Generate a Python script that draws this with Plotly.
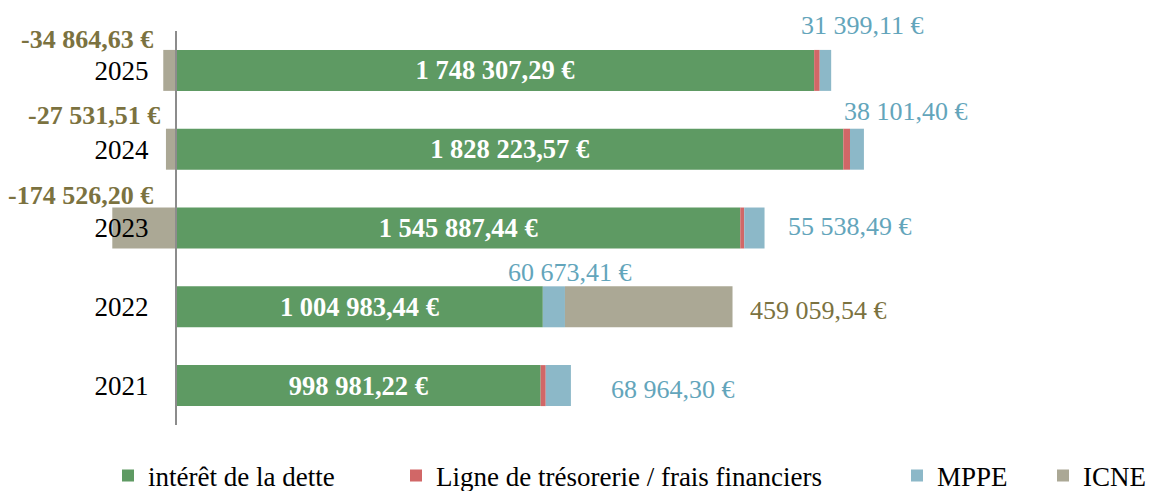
import plotly.graph_objects as go

# ---- data ----
years = ["2021", "2022", "2023", "2024", "2025"]
interet_dette = [998981.22, 1004983.44, 1545887.44, 1828223.57, 1748307.29]
ligne_tresorerie = [14000, 0, 11000, 18400, 15300]
mppe = [68964.30, 60673.41, 55538.49, 38101.40, 31399.11]
icne = [0, 459059.54, -174526.20, -27531.51, -34864.63]
series_names = ["intérêt de la dette", "Ligne de trésorerie / frais financiers", "MPPE", "ICNE"]

# ---- styles ----
FONT = "Liberation Serif"
colors = ["#5e9a63", "#d16767", "#8cb8c8", "#aba895"]
MPPE_LABEL = "#63a5bb"
ICNE_LABEL = "#7b7240"

# page body has an 8px margin: shift the figure's contents up/left by it
OFF = 8
W, H = 1159, 491
ML, MT = 12, 23
plot_w, plot_h = 1127, 394
MR = W - ML - plot_w
MB = H - MT - plot_h
ZERO_PX = 176 - OFF
PX_PER_EUR = 0.000365
x0_frac = (ZERO_PX - ML) / plot_w
span = plot_w / PX_PER_EUR
xrange = [-x0_frac * span, (1 - x0_frac) * span]


def eur(v):
    s = f"{abs(v):,.2f}".replace(",", " ").replace(".", ",")
    return ("-" if v < 0 else "") + s + " €"


fig = go.Figure()
series = [interet_dette, ligne_tresorerie, mppe, icne]
legend_ids = ["legend", "legend2", "legend3", "legend4"]
for i, (name, vals) in enumerate(zip(series_names, series)):
    kw = {}
    if i == 0:
        kw = dict(text=[eur(v) for v in vals], textposition="inside",
                  insidetextanchor="middle", textangle=0, constraintext="none",
                  textfont=dict(family=FONT, size=26.5, color="white", weight="bold"))
    fig.add_trace(go.Bar(
        y=years, x=vals, name=name, orientation="h", showlegend=True,
        marker=dict(color=colors[i], line=dict(width=0)),
        legend=legend_ids[i], hoverinfo="skip", **kw))

annotations = []
# MPPE labels: (xshift, yshift) per year
mppe_off = {"2021": (38, -3.5), "2022": (-59, 34.5), "2023": (21, 2),
            "2024": (-22, 38), "2025": (-32, 44.5)}
for k, yr in enumerate(years):
    end = interet_dette[k] + ligne_tresorerie[k] + mppe[k]
    dx, dy = mppe_off[yr]
    annotations.append(dict(x=end, y=k, xref="x", yref="y", text=eur(mppe[k]),
                            showarrow=False, xanchor="left", xshift=dx, yshift=dy,
                            font=dict(family=FONT, size=26, color=MPPE_LABEL)))
# ICNE labels
icne_off = {"2022": (15, -3.5), "2023": (-21, 33), "2024": (-14, 34), "2025": (-21, 30.5)}
for k, yr in enumerate(years):
    v = icne[k]
    if v == 0:
        continue
    dx, dy = icne_off[yr]
    if v > 0:
        end = interet_dette[k] + ligne_tresorerie[k] + mppe[k] + v
        annotations.append(dict(x=end, y=k, xref="x", yref="y", text=eur(v), showarrow=False,
                                xanchor="left", xshift=dx, yshift=dy,
                                font=dict(family=FONT, size=26, color=ICNE_LABEL)))
    else:
        annotations.append(dict(x=0, y=k, xref="x", yref="y", text="<b>" + eur(v) + "</b>",
                                showarrow=False, xanchor="right", xshift=dx, yshift=dy,
                                font=dict(family=FONT, size=26, color=ICNE_LABEL)))

leg_text_px = [149, 437, 938, 1084]
legends = {}
for i, lid in enumerate(legend_ids):
    legends[lid] = dict(orientation="h", xref="container", yref="container",
                        x=(leg_text_px[i] - OFF - 41) / W, xanchor="left",
                        y=1 - (476 - OFF) / H, yanchor="middle", bgcolor="rgba(0,0,0,0)",
                        font=dict(family=FONT, size=27, color="black"))

fig.update_layout(
    width=W, height=H, margin=dict(l=ML, r=MR, t=MT, b=MB, autoexpand=False),
    paper_bgcolor="white", plot_bgcolor="white", showlegend=True,
    barmode="relative", bargap=0.48,
    xaxis=dict(range=xrange, visible=False, showgrid=False, zeroline=False),
    yaxis=dict(type="category", categoryorder="array", categoryarray=years,
               range=[-0.5, len(years) - 0.5],
               anchor="free", position=x0_frac, showline=True, linecolor="#8c8c8c",
               linewidth=2, ticks="", ticklabelstandoff=21, showgrid=False,
               tickfont=dict(family=FONT, size=27, color="black")),
    annotations=annotations,
    font=dict(family=FONT),
    **legends,
)

fig.write_html("out.html")
